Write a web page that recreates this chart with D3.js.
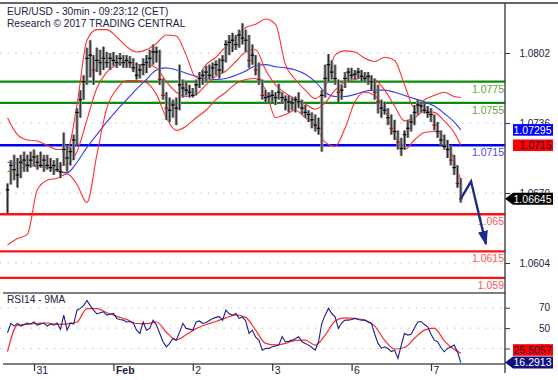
<!DOCTYPE html>
<html><head><meta charset="utf-8">
<script src="https://cdn.jsdelivr.net/npm/d3@7"></script>
<style>
html,body{margin:0;padding:0;background:#fff;}
svg{display:block;font-family:"Liberation Sans",Arial,sans-serif;}
</style></head><body>
<svg id="chart" width="558" height="380"></svg>
<script>
// ---------------- DATA ----------------
const titleText = "EUR/USD - 30min - 09:23:12 (CET)";
const subtitleText = "Research © 2017 TRADING CENTRAL";
const rsiTitleText = "RSI14 - 9MA";

// hourly bars, hour index relative to 31 Jan 00:00 (trading time)
const firstHour = -8;
const firstOpen = 1.0655;
const highs = [1.0679,1.0701,1.0706,1.0703,1.0706,1.0709,1.0706,1.0709,1.0711,1.0706,
1.0709,1.0706,1.0706,1.0703,1.0701,1.0703,1.0699,1.0727,1.0715,1.0713,
1.0725,1.0750,1.0767,1.0781,1.0807,1.0814,1.0800,1.0807,1.0805,1.0808,
1.0803,1.0802,1.0803,1.0800,1.0802,1.0800,1.0800,1.0799,1.0797,1.0793,
1.0791,1.0797,1.0800,1.0805,1.0810,1.0808,1.0805,1.0778,1.0765,1.0760,
1.0758,1.0760,1.0791,1.0777,1.0775,1.0772,1.0769,1.0777,1.0784,1.0786,
1.0790,1.0791,1.0793,1.0795,1.0797,1.0800,1.0814,1.0819,1.0821,1.0819,
1.0824,1.0830,1.0824,1.0819,1.0810,1.0800,1.0793,1.0777,1.0767,1.0765,
1.0767,1.0765,1.0773,1.0765,1.0762,1.0762,1.0760,1.0761,1.0765,1.0758,
1.0753,1.0748,1.0746,1.0744,1.0741,1.0767,1.0791,1.0801,1.0795,1.0791,
1.0777,1.0772,1.0784,1.0788,1.0788,1.0786,1.0788,1.0786,1.0784,1.0784,
1.0781,1.0778,1.0772,1.0758,1.0756,1.0750,1.0744,1.0739,1.0729,1.0722,
1.0729,1.0739,1.0744,1.0753,1.0758,1.0756,1.0754,1.0752,1.0750,1.0744,
1.0737,1.0729,1.0725,1.0720,1.0715,1.0706,1.0696,1.0684];
const lows = [1.0651,1.0678,1.0682,1.0675,1.0684,1.0690,1.0690,1.0694,1.0696,1.0692,
1.0694,1.0690,1.0692,1.0690,1.0687,1.0690,1.0684,1.0696,1.0690,1.0696,
1.0701,1.0715,1.0741,1.0758,1.0772,1.0779,1.0772,1.0784,1.0781,1.0786,
1.0788,1.0786,1.0790,1.0788,1.0790,1.0788,1.0788,1.0788,1.0784,1.0777,
1.0778,1.0781,1.0783,1.0788,1.0791,1.0793,1.0772,1.0758,1.0739,1.0737,
1.0741,1.0734,1.0748,1.0760,1.0762,1.0760,1.0760,1.0762,1.0769,1.0772,
1.0775,1.0777,1.0778,1.0781,1.0778,1.0783,1.0793,1.0800,1.0803,1.0805,
1.0807,1.0810,1.0803,1.0788,1.0791,1.0781,1.0772,1.0758,1.0755,1.0755,
1.0756,1.0753,1.0758,1.0754,1.0748,1.0746,1.0748,1.0746,1.0750,1.0744,
1.0741,1.0737,1.0731,1.0728,1.0725,1.0709,1.0760,1.0775,1.0777,1.0772,
1.0756,1.0758,1.0769,1.0775,1.0777,1.0777,1.0778,1.0775,1.0775,1.0772,
1.0767,1.0758,1.0745,1.0741,1.0744,1.0734,1.0725,1.0720,1.0711,1.0705,
1.0711,1.0722,1.0728,1.0734,1.0744,1.0746,1.0745,1.0741,1.0737,1.0729,
1.0722,1.0715,1.0711,1.0703,1.0696,1.0687,1.0675,1.0661];
const closes = [1.0673,1.0696,1.0692,1.0687,1.0699,1.0701,1.0696,1.0701,1.0704,1.0699,
1.0696,1.0701,1.0696,1.0694,1.0696,1.0692,1.0690,1.0711,1.0703,1.0709,
1.0720,1.0746,1.0758,1.0775,1.0797,1.0800,1.0786,1.0795,1.0793,1.0797,
1.0793,1.0797,1.0795,1.0793,1.0797,1.0793,1.0795,1.0793,1.0788,1.0781,
1.0786,1.0791,1.0793,1.0797,1.0803,1.0803,1.0777,1.0762,1.0750,1.0748,
1.0753,1.0750,1.0772,1.0769,1.0767,1.0765,1.0762,1.0772,1.0778,1.0781,
1.0784,1.0781,1.0788,1.0791,1.0786,1.0795,1.0810,1.0812,1.0814,1.0810,
1.0819,1.0816,1.0814,1.0795,1.0800,1.0786,1.0777,1.0762,1.0760,1.0761,
1.0762,1.0760,1.0765,1.0760,1.0758,1.0756,1.0755,1.0758,1.0756,1.0750,
1.0746,1.0744,1.0739,1.0734,1.0731,1.0762,1.0778,1.0791,1.0784,1.0778,
1.0765,1.0767,1.0778,1.0784,1.0781,1.0782,1.0784,1.0780,1.0778,1.0780,
1.0775,1.0765,1.0756,1.0750,1.0748,1.0741,1.0731,1.0728,1.0718,1.0712,
1.0725,1.0731,1.0737,1.0746,1.0753,1.0752,1.0748,1.0746,1.0744,1.0734,
1.0728,1.0720,1.0714,1.0711,1.0701,1.0694,1.0679,1.06645];

// indicator samples (every 3 hours)
const indHours = [-8,-5,-2,1,4,7,10,13,16,19,22,25,28,31,34,37,40,43,46,49,52,55,58,61,64,67,70,73,76,79,82,85,88,91,94,97,100,103,106,109,112,115,118,121,124,127,129];
const bbUpper = [1.0741,1.0725,1.0720,1.0719,1.0715,1.0711,1.0711,1.0753,1.0814,1.0824,1.0824,1.0817,1.0808,1.0803,1.0805,1.0811,1.0819,1.0818,1.0800,1.0779,1.0791,1.0798,1.0808,1.0817,1.0826,1.0829,1.0834,1.0829,1.0791,1.0777,1.0767,1.0759,1.0769,1.0800,1.0804,1.0803,1.0797,1.0794,1.0798,1.0795,1.0772,1.0750,1.0758,1.0762,1.0765,1.0761,1.0760];
const bbMiddle = [1.0690,1.0693,1.0695,1.0696,1.0696,1.0695,1.0697,1.0709,1.0739,1.0769,1.0784,1.0791,1.0794,1.0791,1.0791,1.0788,1.0775,1.0765,1.0761,1.0763,1.0772,1.0780,1.0785,1.0794,1.0803,1.0805,1.0786,1.0772,1.0764,1.0759,1.0754,1.0749,1.0755,1.0767,1.0775,1.0777,1.0779,1.0777,1.0767,1.0752,1.0738,1.0741,1.0747,1.0746,1.0738,1.0727,1.0715];
const bbLower = [1.0621,1.0627,1.0631,1.0673,1.0682,1.0684,1.0688,1.0678,1.0661,1.0706,1.0750,1.0768,1.0776,1.0776,1.0774,1.0763,1.0741,1.0729,1.0733,1.0741,1.0748,1.0758,1.0765,1.0773,1.0777,1.0778,1.0767,1.0741,1.0744,1.0748,1.0741,1.0734,1.0718,1.0714,1.0731,1.0756,1.0765,1.0762,1.0748,1.0725,1.0711,1.0720,1.0727,1.0728,1.0722,1.0701,1.0682];
const movingAvg = [1.0699,1.0698,1.0697,1.0695,1.0694,1.0691,1.0689,1.0699,1.0713,1.0725,1.0737,1.0748,1.0758,1.0768,1.0777,1.0786,1.0788,1.0786,1.0783,1.0780,1.0778,1.0777,1.0778,1.0781,1.0785,1.0790,1.0791,1.0789,1.0788,1.0786,1.0782,1.0775,1.0765,1.0761,1.0761,1.0763,1.0766,1.0767,1.0767,1.0765,1.0762,1.0759,1.0756,1.0752,1.0745,1.0737,1.07295];

// RSI (hourly, same hours as bars) and its 9MA (every 3 hours)
const rsi14 = [45.4,54.6,52,54.6,52,53.5,55,54,56,53,54,55,52,54,53,55,48.7,62.7,48,55,
54,67.6,69.3,72,77,72,67.6,64,65,66,62.7,63.5,64.4,59.5,58.5,57.8,56,56.5,55,48,
44.8,56,48,49.7,57.8,53,45,36.6,31.7,35,39.9,38.2,46,54.6,49.7,49,48,56,57,54.6,
55.5,57.5,59.5,60.5,61.2,57.8,67.6,64,62.7,64.4,59.5,61,57,44.8,48,41,38.2,28.4,30,30.1,
31.7,32.5,33.3,41.5,36.6,37,38.2,39.5,41.5,36.6,35,33.3,31,28.4,36.6,54.6,62.7,69.3,64.4,61,
49.7,55,57.8,57.8,58.5,59.5,58.5,57.8,57.8,56,54.6,44,35,30.1,31.7,30,27,28.4,20.3,33,
44.8,43.1,44,50,56,56.5,53.5,51.3,44,38.2,36.6,31,26.8,30.1,31.5,33.3,26.8,16.2913];
const rsiMA9 = [27,52.9,53.6,54.5,55,53.6,54.2,56,69,69,65,61.5,58.5,54.5,54.3,56,46,38.5,43.5,49.5,53.5,56.5,60,63,60.5,48,35,33.5,35,38,38.2,33.3,43,57,60,59.5,57.8,52,38,29.5,31,40,48,50,37.5,29,25.5057];

// axes / levels
const priceTicks = [1.0802, 1.0736, 1.0670, 1.0604];
const rsiTicks = [70, 50, 30];
const dayTickHours = [0, 24, 48, 72, 96, 120];
const dayTickLabels = ["31", "Feb", "2", "3", "6", "7"];
const monthLabels = ["Feb"];
const resistanceLevels = [1.0775, 1.0755];
const pivotLevels = [1.0715];
const supportLevels = [1.065, 1.0615, 1.059];
// forecast arrow (hour, price)
const arrowHours = [129, 132.1, 136.6];
const arrowPrices = [1.06645, 1.0681, 1.0622];

// ---------------- LAYOUT ----------------
const W = 558, H = 380;
const plotL = 0, plotR = 505;
const mainTop = 3, mainBottom = 293, rsiBottom = 364;
const inkText = "#22223f";

const svg = d3.select("#chart");
const x = d3.scaleLinear().domain([0, 120]).range([34, 431]);
const y = d3.scaleLinear().domain([1.0604, 1.0802]).range([263, 53]);
const yR = d3.scaleLinear().domain([30, 70]).range([348.5, 307.7]);

const defs = svg.append("defs");
defs.append("clipPath").attr("id","clipMain").append("rect")
  .attr("x",plotL).attr("y",mainTop).attr("width",plotR-plotL).attr("height",mainBottom-mainTop);
defs.append("clipPath").attr("id","clipRsi").append("rect")
  .attr("x",plotL).attr("y",mainBottom).attr("width",plotR-plotL).attr("height",rsiBottom-mainBottom);
defs.append("marker").attr("id","ah").attr("markerUnits","userSpaceOnUse")
  .attr("markerWidth",16).attr("markerHeight",12).attr("refX",13).attr("refY",5)
  .attr("orient","auto")
  .append("path").attr("d","M0,0 L15,5 L0,10 Z").attr("fill","#1e2a8c");

const main = svg.append("g").attr("clip-path","url(#clipMain)");
const rsiG = svg.append("g").attr("clip-path","url(#clipRsi)");

// dotted grid
main.selectAll("line.grid").data(priceTicks).join("line")
  .attr("x1",plotL).attr("x2",plotR).attr("y1",d=>y(d)).attr("y2",d=>y(d))
  .attr("stroke","#b5b5b5").attr("stroke-width",1).attr("stroke-dasharray","1.2,6.5");
rsiG.selectAll("line.grid").data(rsiTicks).join("line")
  .attr("x1",plotL).attr("x2",plotR).attr("y1",d=>yR(d)).attr("y2",d=>yR(d))
  .attr("stroke","#b5b5b5").attr("stroke-width",1).attr("stroke-dasharray","1.2,6.5");

// level lines
const levels = [
  ...resistanceLevels.map(v=>({v, c:"#0c8c0c", t:"#62a33a"})),
  ...pivotLevels.map(v=>({v, c:"#0000f0", t:"#4b4bf5"})),
  ...supportLevels.map(v=>({v, c:"#ff1010", t:"#ff5555"}))
];
main.selectAll("line.lvl").data(levels).join("line")
  .attr("x1",plotL).attr("x2",plotR).attr("y1",d=>y(d.v)).attr("y2",d=>y(d.v))
  .attr("stroke",d=>d.c).attr("stroke-width",2.4);
main.selectAll("text.lvl").data(levels).join("text")
  .attr("x",plotR-1).attr("y",d=>y(d.v)+11).attr("text-anchor","end")
  .attr("font-size",10.5).attr("fill",d=>d.t).text(d=>String(d.v));

// indicator lines
const ind = indHours.map((h,i)=>({h, u:bbUpper[i], m:bbMiddle[i], l:bbLower[i], ma:movingAvg[i], r:rsiMA9[i]}));
function lineOf(key, ys){ return d3.line().x(d=>x(d.h)).y(d=>ys(d[key])).curve(d3.curveMonotoneX); }
main.append("path").datum(ind).attr("d",lineOf("ma",y)).attr("fill","none").attr("stroke","#3838f0").attr("stroke-width",1.1);
["u","m","l"].forEach(k=>{
  main.append("path").datum(ind).attr("d",lineOf(k,y)).attr("fill","none").attr("stroke","#ff3030").attr("stroke-width",1.1);
});

// candles
const bars = highs.map((hi,i)=>({h:firstHour+i, hi, lo:lows[i], c:closes[i], o: i===0 ? firstOpen : closes[i-1]}));
const cg = main.append("g");
cg.selectAll("rect.rng").data(bars).join("rect")
  .attr("x",d=>x(d.h)-1.5).attr("width",3)
  .attr("y",d=>y(d.hi)).attr("height",d=>Math.max(1,y(d.lo)-y(d.hi)))
  .attr("fill","#8d8d8d");
cg.selectAll("line.wick").data(bars).join("line")
  .attr("x1",d=>x(d.h)).attr("x2",d=>x(d.h)).attr("y1",d=>y(d.hi)).attr("y2",d=>y(d.lo))
  .attr("stroke","#1a1a1a").attr("stroke-width",0.9);
cg.selectAll("line.cl").data(bars).join("line")
  .attr("x1",d=>x(d.h)-1.8).attr("x2",d=>x(d.h)+1.8).attr("y1",d=>y(d.c)).attr("y2",d=>y(d.c))
  .attr("stroke",d=>d.c<d.o-0.0008?"#c00000":"#000").attr("stroke-width",1.2);

// forecast arrow
const arrowPts = arrowHours.map((h,i)=>[x(h), y(arrowPrices[i])]);
svg.append("path").attr("d", d3.line()(arrowPts)).attr("fill","none")
  .attr("stroke","#1e2a8c").attr("stroke-width",2.4).attr("stroke-linejoin","miter")
  .attr("marker-end","url(#ah)");

// RSI
const rsiPts = rsi14.map((v,i)=>({h:firstHour+i, v}));
rsiG.append("path").datum(ind).attr("d",lineOf("r",yR)).attr("fill","none").attr("stroke","#ff2a2a").attr("stroke-width",1.2);
rsiG.append("path").datum(rsiPts).attr("d",d3.line().x(d=>x(d.h)).y(d=>yR(d.v))).attr("fill","none").attr("stroke","#1e1e8a").attr("stroke-width",1.1);

// frame lines
svg.append("line").attr("x1",0).attr("x2",W).attr("y1",mainTop).attr("y2",mainTop).attr("stroke","#333").attr("stroke-width",1.5);
svg.append("line").attr("x1",3).attr("x2",plotR).attr("y1",mainBottom).attr("y2",mainBottom).attr("stroke","#555").attr("stroke-width",1.6);
svg.append("line").attr("x1",3).attr("x2",plotR).attr("y1",rsiBottom).attr("y2",rsiBottom).attr("stroke","#555").attr("stroke-width",1.6);
svg.append("line").attr("x1",plotR).attr("x2",plotR).attr("y1",mainTop).attr("y2",373).attr("stroke","#333").attr("stroke-width",1.3);

// right axes
function styleAxis(g){
  g.select(".domain").remove();
  g.selectAll(".tick line").attr("stroke","#333");
  g.selectAll(".tick text").attr("x",45).attr("text-anchor","end").attr("fill",inkText)
    .attr("font-size",10).attr("font-family","Liberation Sans, Arial, sans-serif");
}
svg.append("g").attr("transform",`translate(${plotR},0)`)
  .call(d3.axisRight(y).tickValues(priceTicks).tickFormat(d3.format(".4f")).tickSize(5)).call(styleAxis);
svg.append("g").attr("transform",`translate(${plotR},0)`)
  .call(d3.axisRight(yR).tickValues(rsiTicks).tickFormat(d3.format("d")).tickSize(5)).call(styleAxis);

// bottom axis
const xa = svg.append("g").attr("transform",`translate(0,${rsiBottom})`)
  .call(d3.axisBottom(x).tickValues(dayTickHours).tickFormat((d,i)=>dayTickLabels[i]).tickSize(7));
xa.select(".domain").remove();
xa.selectAll(".tick line").attr("stroke","#333").attr("stroke-width",1.2);
xa.selectAll(".tick text").attr("x",2).attr("y",3).attr("text-anchor","start")
  .attr("fill",inkText).attr("font-size",10.5).attr("font-family","Liberation Sans, Arial, sans-serif")
  .attr("font-weight",(d,i)=>monthLabels.includes(dayTickLabels[i])?"bold":"normal");

// badges
function badge(yc, text, fill, color, pointed){
  const g = svg.append("g");
  if (pointed){
    g.append("path").attr("d",`M${plotR},${yc} L${plotR+8},${yc-6} L553,${yc-6} L553,${yc+6} L${plotR+8},${yc+6} Z`).attr("fill",fill);
  } else {
    g.append("rect").attr("x",513).attr("y",yc-5.8).attr("width",40).attr("height",11.6).attr("fill",fill);
  }
  g.append("text").attr("x",551.5).attr("y",yc+4).attr("text-anchor","end")
    .attr("font-size",10.5).attr("fill",color).text(text);
}
const lastMA = movingAvg[movingAvg.length-1];
const lastMid = bbMiddle[bbMiddle.length-1];
const lastClose = closes[closes.length-1];
badge(y(lastMA), String(lastMA), "#0000ff", "#fff", false);
badge(y(lastMid), String(lastMid), "#ff0000", "#1a1a40", false);
badge(y(lastClose), String(lastClose), "#000", "#fff", true);
const lastRsi = rsi14[rsi14.length-1], lastRsiMA = rsiMA9[rsiMA9.length-1];
const yRsiBadge = yR(lastRsi);
badge(Math.min(yR(lastRsiMA), yRsiBadge-12.5), String(lastRsiMA), "#ff0000", "#1a1a40", false);
badge(yRsiBadge, String(lastRsi), "#10107e", "#fff", true);

// titles
svg.append("text").attr("x",7).attr("y",15).attr("font-size",10.2).attr("fill",inkText).text(titleText);
svg.append("text").attr("x",7).attr("y",27).attr("font-size",10.2).attr("fill",inkText).text(subtitleText);
svg.append("text").attr("x",7).attr("y",303).attr("font-size",10.2).attr("fill",inkText).text(rsiTitleText);
</script>
</body></html>
